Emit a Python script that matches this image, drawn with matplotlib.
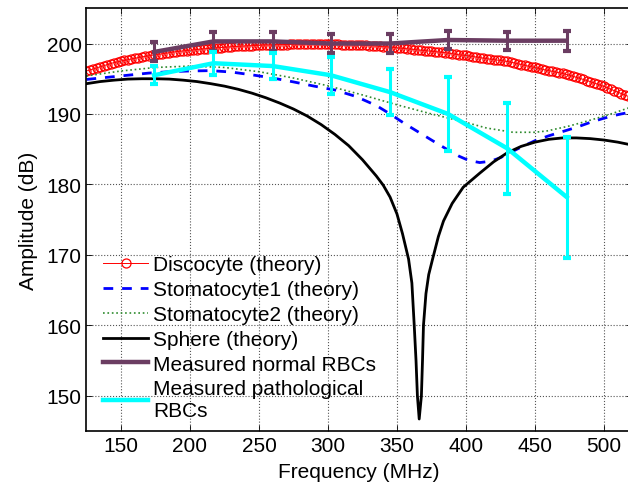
import matplotlib
matplotlib.use('Agg')
import matplotlib.pyplot as plt
import numpy as np

plt.rcParams['font.family'] = ['Liberation Sans', 'DejaVu Sans']
plt.rcParams['font.size'] = 15

#%% data

# Discocyte (theory), one value every 2.5 MHz
disco_f = np.arange(125, 520.1, 2.5)
disco_db = [196.10, 196.25, 196.40, 196.55, 196.70, 196.85, 197.00, 197.15, 197.30, 197.40,
            197.50, 197.60, 197.70, 197.80, 197.90, 198.00, 198.10, 198.18, 198.25, 198.33,
            198.40, 198.48, 198.55, 198.63, 198.70, 198.78, 198.85, 198.90, 198.95, 199.00,
            199.05, 199.10, 199.15, 199.20, 199.25, 199.28, 199.30, 199.35, 199.40, 199.43,
            199.45, 199.50, 199.55, 199.58, 199.60, 199.63, 199.65, 199.68, 199.70, 199.73,
            199.75, 199.78, 199.80, 199.80, 199.80, 199.83, 199.85, 199.85, 199.85, 199.88,
            199.90, 199.90, 199.90, 199.90, 199.90, 199.90, 199.90, 199.90, 199.90, 199.90,
            199.90, 199.90, 199.90, 199.88, 199.85, 199.85, 199.85, 199.83, 199.80, 199.78,
            199.75, 199.73, 199.70, 199.68, 199.65, 199.60, 199.55, 199.53, 199.50, 199.45,
            199.40, 199.35, 199.30, 199.25, 199.20, 199.15, 199.10, 199.05, 199.00, 198.95,
            198.90, 198.85, 198.80, 198.75, 198.70, 198.63, 198.55, 198.48, 198.40, 198.35,
            198.30, 198.23, 198.15, 198.08, 198.00, 197.93, 197.85, 197.78, 197.70, 197.65,
            197.60, 197.53, 197.45, 197.35, 197.25, 197.13, 197.00, 196.90, 196.80, 196.70,
            196.60, 196.48, 196.35, 196.25, 196.15, 196.05, 195.95, 195.85, 195.75, 195.63,
            195.50, 195.35, 195.20, 195.05, 194.90, 194.75, 194.60, 194.43, 194.25, 194.08,
            193.90, 193.70, 193.50, 193.30, 193.10, 192.90, 192.70, 192.50, 192.30]

# Stomatocyte1 (theory)
stoma1_f = [125, 140, 155, 170, 185, 200, 215, 230, 245, 260, 275, 290, 305, 320, 335,
            345, 355, 365, 375, 386, 395, 402, 410, 418, 425, 432, 440, 450, 460, 470,
            480, 490, 500, 510, 520]
stoma1_db = [194.9, 195.2, 195.5, 195.8, 196.0, 196.1, 196.15, 195.95, 195.55, 195.1,
             194.55, 193.95, 193.4, 192.5, 191.2, 190.0, 188.7, 187.5, 186.3, 185.0,
             184.0, 183.4, 183.1, 183.3, 183.8, 184.5, 185.3, 186.2, 186.9, 187.5,
             188.1, 188.8, 189.4, 189.9, 190.3]

# Stomatocyte2 (theory)
stoma2_f = [125, 150, 175, 200, 225, 250, 275, 300, 325, 350, 375, 400, 415, 434,
            450, 459, 475, 488, 505, 520]
stoma2_db = [195.4, 196.1, 196.6, 196.8, 196.6, 196.0, 195.1, 194.0, 192.7, 191.3,
             190.0, 188.8, 188.0, 187.4, 187.4, 187.6, 188.3, 189.0, 190.0, 191.0]

# Sphere (theory)
sphere_f = [125, 135, 145, 155, 165, 175, 185, 195, 205, 215, 225, 235, 245, 255, 265,
            275, 285, 295, 305, 315, 325, 335, 340, 345, 350, 354, 358.4, 360.8, 362.5,
            363.8, 364.8, 366.1, 367.7, 368.5, 369.2, 371, 373, 375.8, 380, 383.7, 390,
            398, 410, 420, 430, 440, 450, 460, 470, 480, 490, 500, 510, 520]
sphere_db = [194.3, 194.6, 194.8, 194.95, 195.0, 195.0, 194.95, 194.8, 194.6, 194.3,
             193.95, 193.5, 192.95, 192.3, 191.55, 190.7, 189.7, 188.5, 187.1, 185.5,
             183.5, 181.2, 179.9, 178.2, 175.8, 173.0, 169.4, 166.0, 160.0, 155.0,
             150.0, 146.7, 150.0, 155.0, 160.0, 164.5, 167.2, 169.4, 172.6, 174.8,
             177.3, 179.6, 181.6, 183.2, 184.5, 185.4, 186.0, 186.4, 186.6, 186.6,
             186.5, 186.3, 186.0, 185.6]

# measurements
meas_f = [174, 217, 260, 302, 345, 387, 430, 473]
normal_db = [198.8, 200.3, 200.3, 200.0, 200.0, 200.5, 200.4, 200.4]
normal_err = [1.35, 1.3, 1.35, 1.3, 1.3, 1.3, 1.3, 1.4]
patho_db = [195.5, 197.2, 196.8, 195.5, 193.1, 190.0, 185.1, 178.2]
patho_err = [1.3, 1.6, 1.9, 2.6, 3.3, 5.2, 6.5, 8.6]

#%% plot

fig = plt.figure(figsize=(6.28, 4.89), dpi=100)
axs = fig.add_axes([0.1377, 0.1166, 0.868, 0.8644])

axs.plot(disco_f, disco_db, '-', color='red', lw=0.7, marker='o', mfc='none',
         mec='red', ms=6.5, mew=0.9, label='Discocyte (theory)')
axs.plot(stoma1_f, stoma1_db, '--', color='blue', lw=2, dashes=(3.5, 3.2),
         label='Stomatocyte1 (theory)')
axs.plot(stoma2_f, stoma2_db, ':', color='#2e8b2e', lw=1.2,
         label='Stomatocyte2 (theory)')
axs.plot(sphere_f, sphere_db, '-', color='black', lw=2, label='Sphere (theory)')
axs.errorbar(meas_f, normal_db, yerr=normal_err, color='#6b3d62', lw=3.2,
             elinewidth=2.2, capsize=3.2, capthick=3, label='Measured normal RBCs')
axs.errorbar(meas_f, patho_db, yerr=patho_err, color='#00ffff', lw=3.2,
             elinewidth=2.2, capsize=3.2, capthick=3,
             label='Measured pathological\nRBCs')

axs.set_xlim((125, 520))
axs.set_ylim((145, 205))
axs.set_xticks(range(150, 501, 50))
axs.set_yticks(range(150, 201, 10))
axs.grid(ls=':', color='#555555', lw=0.8)
axs.tick_params(direction='in', top=True, right=True, length=4, width=0.6)
for sp in axs.spines.values():
    sp.set_linewidth(1.2)

axs.set_xlabel('Frequency (MHz)', labelpad=5)
axs.set_ylabel('Amplitude (dB)', labelpad=6)

# legend shows plain lines for the measured series (no error bar glyph)
handles, labels = axs.get_legend_handles_labels()
handles = [h[0] if isinstance(h, tuple) else h for h in handles]
axs.legend(handles, labels, loc='upper left', bbox_to_anchor=(0.0, 0.455),
           frameon=False, handlelength=2.15, handletextpad=0.25, labelspacing=0.28,
           borderaxespad=0.4, fontsize=15)

fig.savefig('out.png', dpi=100)
